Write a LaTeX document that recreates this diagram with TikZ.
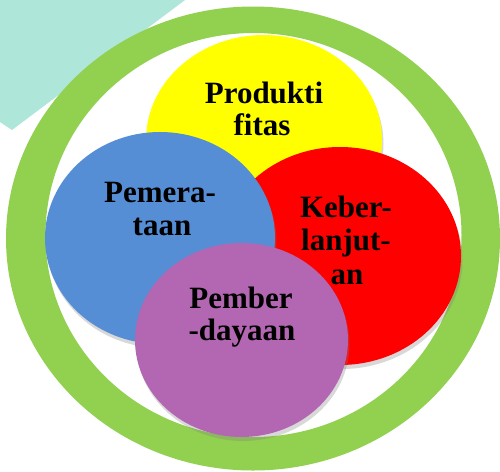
\documentclass[tikz,border=0pt]{standalone}
\usepackage{fontspec}
\setmainfont{Liberation Serif}
\usetikzlibrary{shadows}
\definecolor{teal1}{HTML}{AEE6DA}
\definecolor{ringgreen}{HTML}{92D050}
\definecolor{cyellow}{HTML}{FFFF00}
\definecolor{cred}{HTML}{FF0000}
\definecolor{cblue}{HTML}{558ED5}
\definecolor{cpurple}{HTML}{B366B2}
\begin{document}
\begin{tikzpicture}[x=1pt,y=-1pt,
  blob/.style={drop shadow={shadow xshift=1.5pt,shadow yshift=-4pt,opacity=0.3}},
  lbl/.style={anchor=base,inner sep=0pt,font=\fontsize{31}{32}\selectfont\bfseries}]
\useasboundingbox (0,0) rectangle (500,471);
\clip (0,0) rectangle (500,471);
\fill[white] (0,0) rectangle (500,471);
% teal shape
\fill[teal1] (0,0) -- (185,0) -- (12,130) -- (0,122) -- cycle;
% ring
\fill[ringgreen,even odd rule] (253,238.5) ellipse [x radius=247,y radius=232]
  (253.5,235) ellipse [x radius=208,y radius=202];
% circles
\fill[cyellow,blob] (264,140) ellipse [x radius=118,y radius=105];
\fill[cred,blob] (340,256) ellipse [x radius=121,y radius=109];
\fill[cblue,blob] (160,238) ellipse [x radius=115,y radius=106];
\fill[cpurple,blob] (241.5,340) ellipse [x radius=106.5,y radius=97];
% labels
\node[lbl] (p1) at (264,103) {Produkti};
\node[lbl] (p2) at (262,135) {fitas};
\node[lbl] (q1) at (160,202) {Pemera-};
\node[lbl] (q2) at (162,235) {taan};
\node[lbl] (k1) at (346,217) {Keber-};
\node[lbl] (k2) at (346,250) {lanjut-};
\node[lbl] (k3) at (347,284) {an};
\node[lbl] (b1) at (241,308) {Pember};
\node[lbl] (b2) at (242,340) {-dayaan};
\end{tikzpicture}
\end{document}
